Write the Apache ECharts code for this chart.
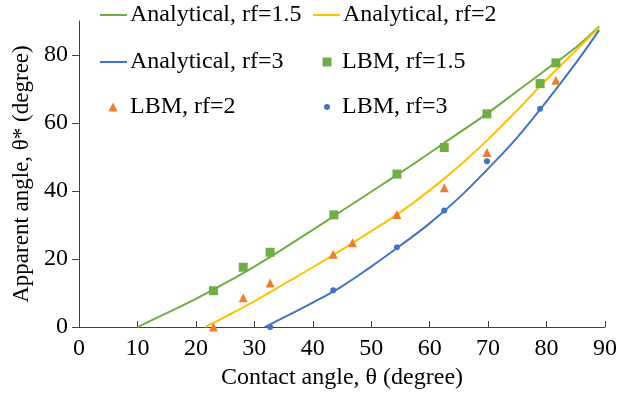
<!DOCTYPE html>
<html>
<head>
<meta charset="utf-8">
<script src="https://cdn.jsdelivr.net/npm/echarts@6/dist/echarts.min.js"></script>
<style>
  html, body { margin: 0; padding: 0; background: #fff; }
  #chart { width: 633px; height: 395px; }
</style>
</head>
<body>
<div id="chart"></div>
<script>
// Analytical curves: contact angle θ vs apparent angle θ*
const thetaRf15 = [10, 15, 20, 25, 30, 35, 40, 45, 50, 55, 60, 65, 70, 75, 80, 85, 89];
const apparentRf15 = [0, 4.1, 8.3, 12.9, 17.8, 23.1, 28.6, 34.2, 39.8, 45.4, 51.2, 57.1, 63.0, 69.4, 75.8, 82.2, 88.4];

const thetaRf2 = [21.6, 25, 30, 35, 40, 45, 50, 55, 60, 65, 70, 75, 80, 85, 89];
const apparentRf2 = [0, 3.0, 7.6, 12.6, 17.6, 22.8, 28.2, 33.8, 40.2, 47.3, 55.2, 63.8, 72.8, 81.3, 88.1];

const thetaRf3 = [31.8, 35, 40, 45, 50, 55, 60, 65, 70, 75, 80, 85, 89];
const apparentRf3 = [0, 2.8, 7.2, 12.0, 17.8, 24.0, 30.5, 38.0, 46.6, 55.8, 66.4, 77.6, 87.3];

// LBM simulation results
const lbmThetaRf15 = [23.0, 28.1, 32.7, 43.6, 54.4, 62.5, 69.8, 78.9, 81.6];
const lbmApparentRf15 = [10.7, 17.6, 22.0, 33.0, 45.0, 52.8, 62.7, 71.6, 77.7];

const lbmThetaRf2 = [23.0, 28.1, 32.7, 43.5, 46.8, 54.4, 62.5, 69.8, 81.6];
const lbmApparentRf2 = [0, 8.6, 13.0, 21.4, 24.8, 33.1, 41.0, 51.3, 72.6];

const lbmThetaRf3 = [32.7, 43.5, 54.4, 62.5, 69.8, 78.9];
const lbmApparentRf3 = [0, 10.8, 23.5, 34.3, 48.8, 64.2];

const xTicks = [0, 10, 20, 30, 40, 50, 60, 70, 80, 90];
const yTicks = [0, 20, 40, 60, 80];

const pairs = (xs, ys) => xs.map((x, i) => [x, ys[i]]);

const FONT = '"Liberation Serif", "Times New Roman", serif';
const GREEN = '#70AD47', YELLOW = '#FFC000', BLUE = '#4472C4', ORANGE = '#ED7D31';
const AXIS = '#404040';

const textStyle = { fontFamily: FONT, fontSize: 24, color: '#000' };

// Legend entry for a curve: a short flat bar as the key
function lineLegend(name, left, centerY) {
  return {
    data: [name],
    icon: 'rect',
    left: left,
    top: centerY - 12,
    padding: 0,
    itemWidth: 27,
    itemHeight: 2,
    textStyle: { ...textStyle, padding: [0, 0, 0, -2] },
    selectedMode: false
  };
}

// Legend entry for a marker series: symbol centred at iconX, text from textX
function markerLegend(name, iconX, textX, centerY, size) {
  const left = iconX - size / 2;
  return {
    data: [name],
    left: left,
    top: centerY - 12,
    padding: 0,
    itemWidth: size,
    itemHeight: size,
    textStyle: { ...textStyle, padding: [0, 0, 0, textX - (left + size + 5)] },
    selectedMode: false
  };
}

const chart = echarts.init(document.getElementById('chart'), null, { renderer: 'canvas' });

chart.setOption({
  animation: false,
  backgroundColor: '#fff',
  textStyle: { fontFamily: FONT },
  grid: { left: 79, right: 28, top: 21, bottom: 67, containLabel: false },
  legend: [
    lineLegend('Analytical, rf=1.5', 100, 15),
    lineLegend('Analytical, rf=2', 313, 15),
    lineLegend('Analytical, rf=3', 100, 62),
    markerLegend('LBM, rf=1.5', 327, 342, 62, 9),
    markerLegend('LBM, rf=2', 113, 130, 107, 9),
    markerLegend('LBM, rf=3', 327, 342, 107, 6)
  ],
  xAxis: {
    type: 'value',
    min: xTicks[0],
    max: xTicks[xTicks.length - 1],
    interval: 10,
    name: 'Contact angle, θ (degree)',
    nameLocation: 'middle',
    nameGap: 36,
    nameTextStyle: textStyle,
    axisLine: { show: true, lineStyle: { color: AXIS, width: 1 } },
    axisTick: { show: true, inside: true, length: 6, lineStyle: { color: AXIS } },
    axisLabel: { ...textStyle, margin: 10 },
    splitLine: { show: false }
  },
  yAxis: {
    type: 'value',
    min: 0,
    max: 90,
    interval: 20,
    name: 'Apparent angle, θ* (degree)',
    nameLocation: 'middle',
    nameGap: 43,
    nameTextStyle: { ...textStyle, fontSize: 23 },
    axisLine: { show: true, lineStyle: { color: AXIS, width: 1 } },
    axisTick: { show: true, inside: false, length: 7, lineStyle: { color: AXIS }, customValues: yTicks },
    axisLabel: { ...textStyle, margin: 11, customValues: yTicks },
    splitLine: { show: false }
  },
  series: [
    {
      name: 'Analytical, rf=1.5', type: 'line', smooth: 0.4, symbol: 'none', showSymbol: false,
      data: pairs(thetaRf15, apparentRf15),
      lineStyle: { color: GREEN, width: 2 }, itemStyle: { color: GREEN }, z: 2
    },
    {
      name: 'Analytical, rf=2', type: 'line', smooth: 0.4, symbol: 'none', showSymbol: false,
      data: pairs(thetaRf2, apparentRf2),
      lineStyle: { color: YELLOW, width: 2 }, itemStyle: { color: YELLOW }, z: 2
    },
    {
      name: 'Analytical, rf=3', type: 'line', smooth: 0.4, symbol: 'none', showSymbol: false,
      data: pairs(thetaRf3, apparentRf3),
      lineStyle: { color: BLUE, width: 2 }, itemStyle: { color: BLUE }, z: 2
    },
    {
      name: 'LBM, rf=1.5', type: 'scatter', symbol: 'rect', symbolSize: 9,
      data: pairs(lbmThetaRf15, lbmApparentRf15),
      itemStyle: { color: GREEN, opacity: 1 }, z: 3
    },
    {
      name: 'LBM, rf=2', type: 'scatter', symbol: 'triangle', symbolSize: 9,
      data: pairs(lbmThetaRf2, lbmApparentRf2),
      itemStyle: { color: ORANGE, opacity: 1 }, z: 3
    },
    {
      name: 'LBM, rf=3', type: 'scatter', symbol: 'circle', symbolSize: 6,
      data: pairs(lbmThetaRf3, lbmApparentRf3),
      itemStyle: { color: BLUE, opacity: 1 }, z: 3
    }
  ]
});
</script>
</body>
</html>
